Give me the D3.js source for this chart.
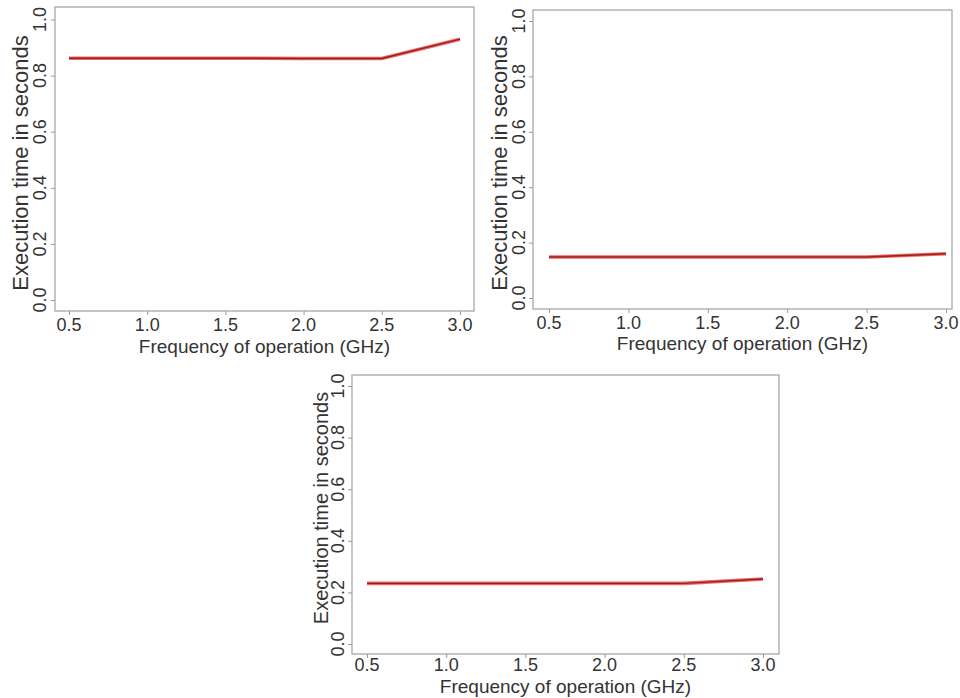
<!DOCTYPE html>
<html>
<head>
<meta charset="utf-8">
<script src="https://cdn.jsdelivr.net/npm/d3@7"></script>
<style>
  html, body { margin: 0; padding: 0; background: #fff; }
  svg { display: block; }
  text { font-family: "Liberation Sans", Arial, Helvetica, sans-serif; fill: #333; }
</style>
</head>
<body>
<div id="chart"></div>
<script>
const W = 960;
const H = 698;

// data
const freq = [0.5, 1.0, 1.5, 2.0, 2.5, 3.0];
const timeA = [0.862, 0.862, 0.862, 0.861, 0.861, 0.930];
const timeB = [0.148, 0.148, 0.148, 0.148, 0.148, 0.160];
const timeC = [0.235, 0.235, 0.235, 0.235, 0.235, 0.252];
const xTicks = [0.5, 1.0, 1.5, 2.0, 2.5, 3.0];
const yTicks = [0.0, 0.2, 0.4, 0.6, 0.8, 1.0];
const xTitle = "Frequency of operation (GHz)";
const yTitle = "Execution time in seconds";

// panel layout: box edges, pixel positions of the end ticks, label positions
const panels = [
  { values: timeA, box: [55, 7, 474, 311], xr: [69, 460], yr: [300, 19.5],
    ylab: 40, ytitle: 20, ytitleY: 163, ytitleSize: 22, xlab: 325, xtitle: 346 },
  { values: timeB, box: [533, 10, 952, 309], xr: [549, 946], yr: [298, 21],
    ylab: 519, ytitle: 499, ytitleY: 163, ytitleSize: 22, xlab: 323, xtitle: 343 },
  { values: timeC, box: [352, 375, 779, 654], xr: [367, 763], yr: [644, 386],
    ylab: 338, ytitle: 321, ytitleY: 508, ytitleSize: 20, xlab: 665, xtitle: 686 }
];

const svg = d3.select("#chart").append("svg")
  .attr("width", W)
  .attr("height", H);

panels.forEach(p => {
  const [l, t, r, b] = p.box;
  const x = d3.scaleLinear().domain([0.5, 3.0]).range(p.xr);
  const y = d3.scaleLinear().domain([0, 1]).range(p.yr);
  const g = svg.append("g");

  g.append("rect")
    .attr("x", l).attr("y", t)
    .attr("width", r - l).attr("height", b - t)
    .attr("fill", "none")
    .attr("stroke", "#a8a8a8")
    .attr("stroke-width", 1.3);

  // x axis
  const xa = g.append("g").attr("transform", `translate(0,${b})`)
    .call(d3.axisBottom(x).tickValues(xTicks).tickSize(4).tickFormat(""));
  xa.select(".domain").remove();
  xa.selectAll(".tick line").attr("stroke", "#999");
  g.selectAll(null).data(xTicks).enter().append("text")
    .attr("x", d => x(d))
    .attr("y", p.xlab)
    .attr("dy", "0.35em")
    .attr("text-anchor", "middle")
    .attr("font-size", 18)
    .text(d3.format(".1f"));

  // y axis
  const ya = g.append("g").attr("transform", `translate(${l},0)`)
    .call(d3.axisLeft(y).tickValues(yTicks).tickSize(4).tickFormat(""));
  ya.select(".domain").remove();
  ya.selectAll(".tick line").attr("stroke", "#999");
  g.selectAll(null).data(yTicks).enter().append("text")
    .attr("transform", d => `translate(${p.ylab},${y(d)}) rotate(-90)`)
    .attr("dy", "0.35em")
    .attr("text-anchor", "middle")
    .attr("font-size", 18)
    .text(d3.format(".1f"));

  // titles
  g.append("text")
    .attr("x", (l + r) / 2)
    .attr("y", p.xtitle)
    .attr("dy", "0.35em")
    .attr("text-anchor", "middle")
    .attr("font-size", 19)
    .text(xTitle);
  g.append("text")
    .attr("transform", `translate(${p.ytitle},${p.ytitleY}) rotate(-90)`)
    .attr("dy", "0.35em")
    .attr("text-anchor", "middle")
    .attr("font-size", p.ytitleSize)
    .text(yTitle);

  // line: red halo with darker core
  const line = d3.line().x((d, i) => x(freq[i])).y(d => y(d));
  g.append("path")
    .datum(p.values)
    .attr("d", line)
    .attr("fill", "none")
    .attr("stroke", "#e8342c")
    .attr("stroke-opacity", 0.75)
    .attr("stroke-width", 3.6);
  g.append("path")
    .datum(p.values)
    .attr("d", line)
    .attr("fill", "none")
    .attr("stroke", "#9a2020")
    .attr("stroke-width", 1.4);
});
</script>
</body>
</html>
